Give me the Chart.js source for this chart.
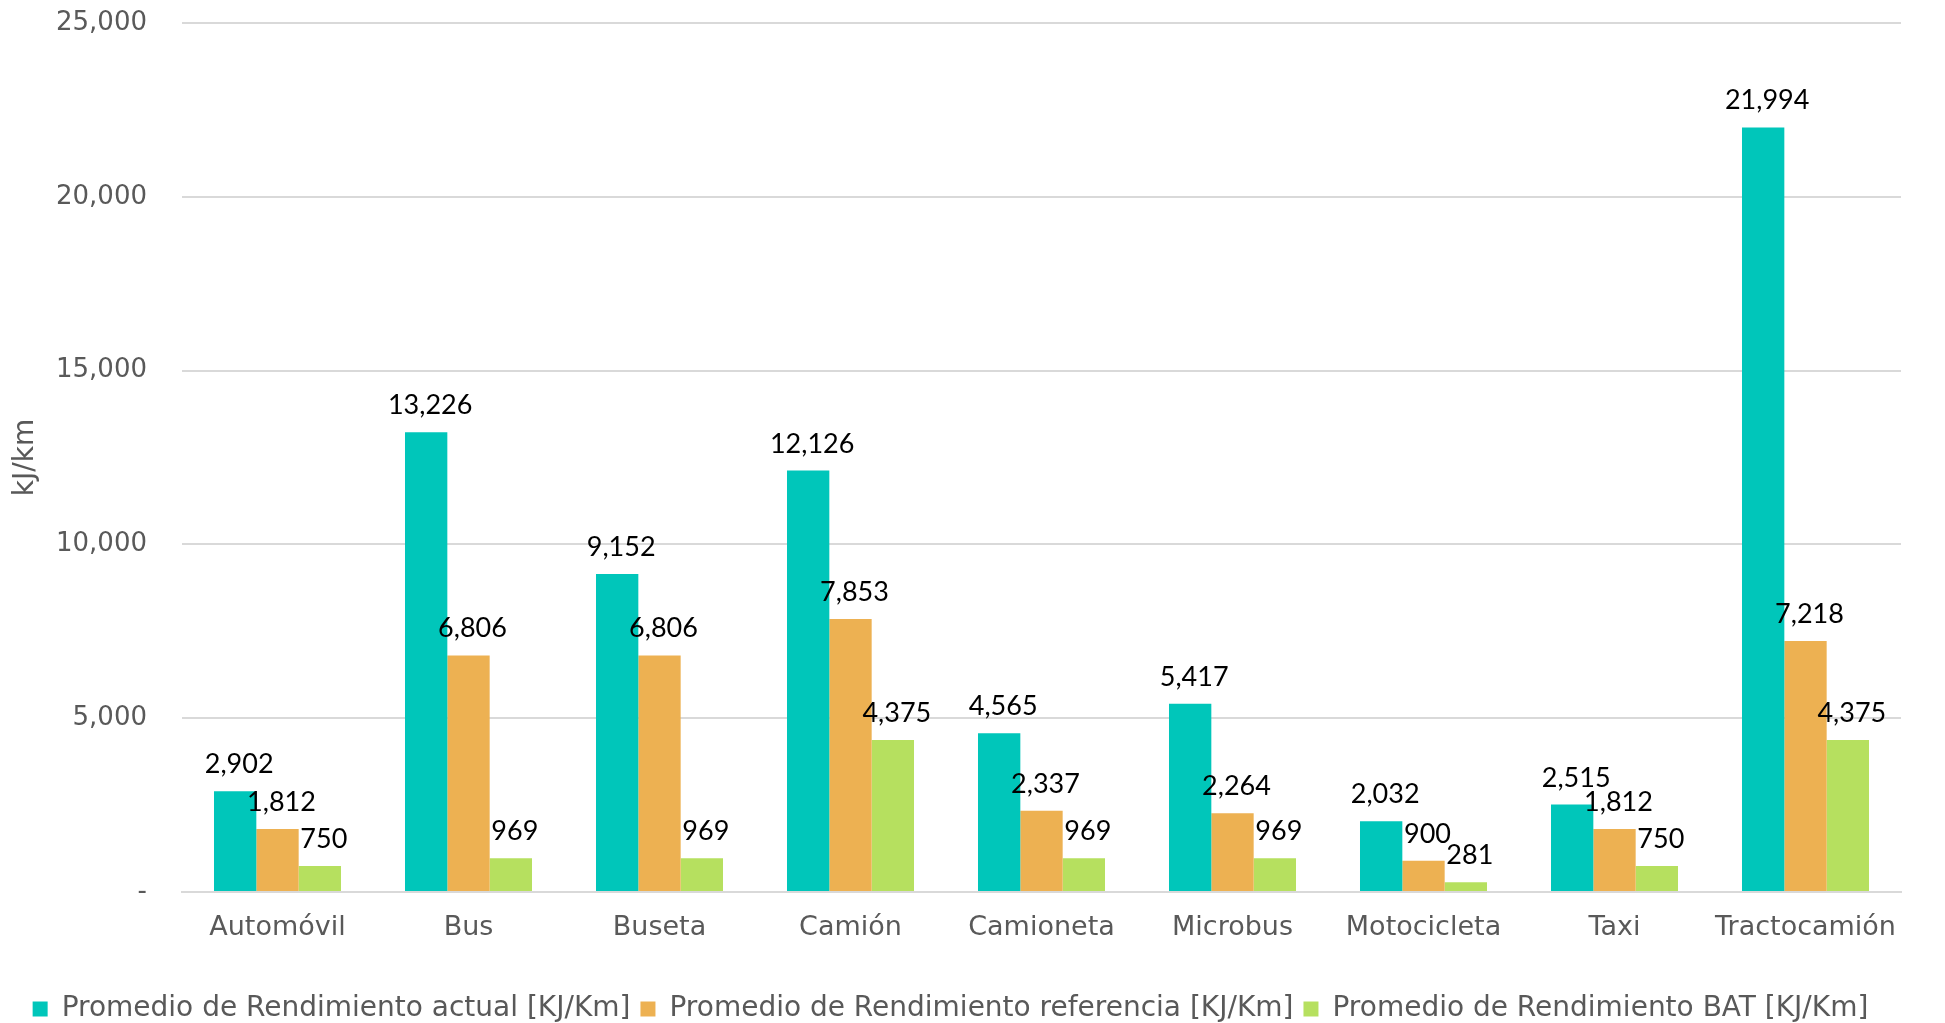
<!DOCTYPE html>
<html>
<head>
<meta charset="utf-8">
<script src="https://cdn.jsdelivr.net/npm/chart.js@4"></script>
<style>
  html, body { margin: 0; padding: 0; background: #fff; }
  #wrap { width: 1945px; height: 1023px; }
</style>
</head>
<body>
<div id="wrap"><canvas id="BarChart" width="1945" height="1023"></canvas></div>
<script>
var categories = ['Automóvil', 'Bus', 'Buseta', 'Camión', 'Camioneta', 'Microbus', 'Motocicleta', 'Taxi', 'Tractocamión'];
var actual = [2902, 13226, 9152, 12126, 4565, 5417, 2032, 2515, 21994];
var referencia = [1812, 6806, 6806, 7853, 2337, 2264, 900, 1812, 7218];
var bat = [750, 969, 969, 4375, 969, 969, 281, 750, 4375];
var yTicks = [0, 5000, 10000, 15000, 20000, 25000];

var FONT = '"DejaVu Sans", sans-serif';
var LABEL_FONT = 'Lato, sans-serif';

// etiquetas encima de cada barra
var valueLabels = {
    id: 'valueLabels',
    afterDatasetsDraw: function (chart) {
        var ctx = chart.ctx;
        ctx.save();
        ctx.fillStyle = '#000';
        ctx.font = '27px ' + LABEL_FONT;
        ctx.textAlign = 'center';
        ctx.textBaseline = 'alphabetic';
        chart.data.datasets.forEach(function (ds, i) {
            var meta = chart.getDatasetMeta(i);
            meta.data.forEach(function (bar, j) {
                ctx.fillText(ds.data[j].toLocaleString('en-US'), bar.x + 4, bar.y - 18);
            });
        });
        ctx.restore();
    }
};

var data = {
    labels: categories,
    datasets: [{
        label: 'Promedio de Rendimiento actual [KJ/Km]',
        backgroundColor: '#00C6BA',
        data: actual,
    }, {
        label: 'Promedio de Rendimiento referencia [KJ/Km]',
        backgroundColor: '#EDB152',
        data: referencia,
    }, {
        label: 'Promedio de Rendimiento BAT [KJ/Km]',
        backgroundColor: '#B6E05F',
        data: bat,
    }]
};

var config = {
    type: 'bar',
    data: data,
    plugins: [valueLabels],
    options: {
        responsive: false,
        animation: false,
        layout: { padding: { top: 23, right: 44, left: 0, bottom: -10 } },
        datasets: {
            bar: { categoryPercentage: 0.665, barPercentage: 1.0 }
        },
        plugins: {
            tooltip: { enabled: false },
            legend: {
                position: 'bottom',
                labels: {
                    font: { family: FONT, size: 28 },
                    color: '#595959',
                    boxWidth: 15,
                    boxHeight: 15,
                    padding: 10
                }
            }
        },
        scales: {
            x: {
                afterFit: function (scale) { scale.height = 93; },
                grid: { display: false, drawTicks: false },
                border: { color: '#d9d9d9', width: 2 },
                ticks: {
                    font: { family: FONT, size: 27 },
                    color: '#595959',
                    padding: 20,
                    maxRotation: 0
                }
            },
            y: {
                min: 0,
                max: 25000,
                afterBuildTicks: function (scale) {
                    scale.ticks = yTicks.map(function (v) { return { value: v }; });
                },
                afterFit: function (scale) {
                    scale.width = 182;
                    scale.paddingTop = 0;
                    scale.paddingBottom = 0;
                },
                grid: { color: '#d9d9d9', lineWidth: 2, drawTicks: false },
                border: { display: false },
                ticks: {
                    font: { family: FONT, size: 26 },
                    color: '#595959',
                    padding: 35,
                    callback: function (v) { return v === 0 ? '-' : v.toLocaleString('en-US'); }
                },
                title: {
                    display: true,
                    text: 'kJ/km',
                    font: { family: FONT, size: 28 },
                    color: '#595959',
                    padding: { top: 9, bottom: 0 }
                }
            }
        }
    }
};

var barChart = new Chart(document.getElementById('BarChart'), config);
</script>
</body>
</html>
